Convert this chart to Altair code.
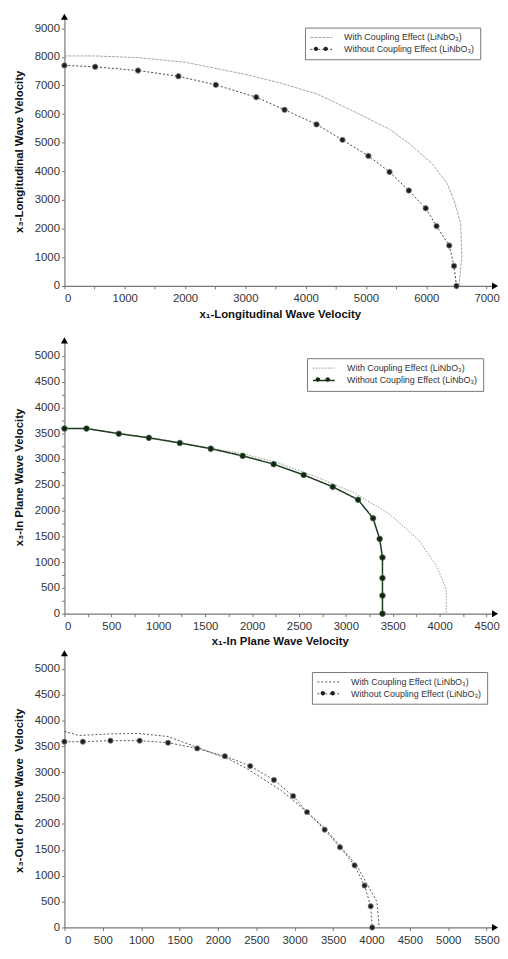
import altair as alt
import pandas as pd

W = "With Coupling Effect (LiNbO₃)"
WO = "Without Coupling Effect (LiNbO₃)"
FONT = "Liberation Sans"

# ---- Panel 1: longitudinal wave
long_with_x = [0, 500, 1220, 2000, 3040, 3590, 4190, 4790, 5390, 5720, 6100, 6350, 6460, 6570, 6590, 6540]
long_with_y = [8030, 8030, 7970, 7810, 7370, 7080, 6700, 6100, 5470, 4970, 4260, 3560, 2990, 2180, 1030, 0]
long_wo_x = [0, 510, 1220, 1890, 2510, 3180, 3650, 4180, 4610, 5040, 5390, 5710, 5990, 6170, 6380, 6460, 6500]
long_wo_y = [7700, 7650, 7520, 7320, 7020, 6590, 6150, 5640, 5100, 4540, 3980, 3330, 2710, 2090, 1410, 700, 0]

# ---- Panel 2: in-plane wave
inp_with_x = [0, 230, 580, 900, 1230, 1560, 1950, 2270, 2660, 3080, 3460, 3780, 3970, 4060, 4070, 4070]
inp_with_y = [3590, 3590, 3500, 3420, 3320, 3210, 3080, 2930, 2670, 2350, 1940, 1420, 910, 520, 400, 0]
inp_wo_x = [0, 235, 580, 900, 1230, 1560, 1900, 2230, 2550, 2860, 3130, 3290, 3360, 3390, 3390, 3390, 3390]
inp_wo_y = [3590, 3590, 3490, 3410, 3310, 3200, 3060, 2900, 2690, 2460, 2210, 1850, 1450, 1090, 690, 350, 0]

# ---- Panel 3: out-of-plane wave
out_with_x = [0, 190, 580, 960, 1350, 1730, 2160, 2400, 2830, 3170, 3390, 3600, 3820, 3950, 4070, 4090, 4100]
out_with_y = [3790, 3710, 3740, 3750, 3690, 3480, 3240, 3050, 2640, 2220, 1920, 1560, 1170, 820, 500, 200, 0]
out_wo_x = [0, 240, 600, 980, 1350, 1730, 2090, 2420, 2730, 2980, 3160, 3390, 3590, 3780, 3910, 3990, 4010]
out_wo_y = [3590, 3590, 3610, 3610, 3570, 3460, 3310, 3120, 2850, 2540, 2230, 1890, 1550, 1200, 810, 410, 0]

LINE_PATH = "M-2.45,0H2.45"
MARK_PATH = ("M-0.6,0A0.5,0.5,0,1,1,-1.6,0A0.5,0.5,0,1,1,-0.6,0Z"
             "M1.6,0A0.5,0.5,0,1,1,0.6,0A0.5,0.5,0,1,1,1.6,0Z")


def make_panel(wx, wy, ox, oy, xmax, ymax, xstep_tick, xstep_lab, ystep_tick, ystep_lab,
               xtop, ytop, xtitle, ytitle, height, lx, ly, st):
    dom = [W, WO]
    dom2 = [W + " ", WO + " "]
    df = pd.DataFrame({
        "x": wx + ox,
        "y": wy + oy,
        "series": [W] * len(wx) + [WO] * len(ox),
        "i": list(range(len(wx))) + list(range(len(ox))),
    })
    dpts = pd.DataFrame({"x": ox, "y": oy, "mk": [dom2[1]] * len(ox)})

    xvals = list(range(0, xtop + 1, xstep_tick))
    yvals = list(range(0, ytop + 1, ystep_tick))
    xaxis = alt.Axis(values=xvals, title=xtitle, format="d", labelOverlap=False,
                     labelExpr=f"datum.value % {xstep_lab} == 0 ? datum.label : ''",
                     labelPadding=4, titlePadding=4)
    yaxis = alt.Axis(values=yvals, title=ytitle, format="d", labelOverlap=False,
                     labelExpr=f"datum.value % {ystep_lab} == 0 ? datum.label : ''",
                     labelPadding=2, titlePadding=10)
    xscale = alt.Scale(domain=[0, xmax], nice=False, zero=False)
    yscale = alt.Scale(domain=[0, ymax], nice=False, zero=False)
    xe = alt.X("x:Q", scale=xscale, axis=xaxis)
    ye = alt.Y("y:Q", scale=yscale, axis=yaxis)

    common = dict(orient="none", legendX=lx, legendY=ly, title=None, symbolSize=81,
                  labelFontSize=9, labelFont=FONT, padding=5, rowPadding=2,
                  symbolOffset=6.5, labelOffset=18, labelLimit=300)
    leg1 = alt.Legend(symbolType=LINE_PATH, strokeColor="#777", fillColor="white",
                      labelColor="#333", symbolStrokeWidth=1, **common)
    leg2 = alt.Legend(symbolType=MARK_PATH, strokeColor="transparent", fillColor="transparent",
                      labelColor="transparent", labelExpr="''", symbolStrokeWidth=0,
                      symbolStrokeColor="transparent", **common)

    line = alt.Chart(df).mark_line(clip=False).encode(
        x=xe, y=ye,
        order="i:Q",
        color=alt.Color("series:N", scale=alt.Scale(domain=dom, range=st["colors"]), legend=leg1),
        strokeDash=alt.StrokeDash("series:N", scale=alt.Scale(domain=dom, range=st["dashes"]), legend=leg1),
        strokeWidth=alt.StrokeWidth("series:N", scale=alt.Scale(domain=dom, range=st["widths"]), legend=None),
    )
    pts = alt.Chart(dpts).mark_point(filled=True, size=st["msize"], stroke=st["mstroke"],
                                     strokeWidth=0.8, opacity=1, clip=False).encode(
        x=xe, y=ye,
        fill=alt.Fill("mk:N", scale=alt.Scale(domain=dom2, range=["transparent", st["mfill"]]), legend=leg2),
    )
    arr_x = alt.Chart(pd.DataFrame({"x": [xmax], "y": [0]})).mark_point(
        shape="triangle-right", filled=True, color="black", size=50, opacity=1, clip=False
    ).encode(x=xe, y=ye)
    arr_y = alt.Chart(pd.DataFrame({"x": [0], "y": [ymax]})).mark_point(
        shape="triangle-up", filled=True, color="black", size=50, opacity=1, clip=False
    ).encode(x=xe, y=ye)
    return alt.layer(line, pts, arr_x, arr_y).properties(width=435, height=height)


style1 = dict(colors=["#a6a6a6", "#444444"], dashes=[[3, 1], [2, 2]], widths=[1.0, 1.0],
              msize=30, mstroke="#8a8a8a", mfill="#1e1e1e")
style2 = dict(colors=["#7a7a7a", "#1f3b1f"], dashes=[[1.5, 1.5], [1, 0]], widths=[0.8, 1.5],
              msize=32, mstroke="#4d6b4d", mfill="#0f260f")
style3 = dict(colors=["#555555", "#555555"], dashes=[[2, 2], [2, 2]], widths=[1.0, 1.0],
              msize=28, mstroke="#8a8a8a", mfill="#1e1e1e")

p1 = make_panel(long_with_x, long_with_y, long_wo_x, long_wo_y, 7140, 9400, 500, 1000, 1000, 1000,
                7000, 9000, "x₁-Longitudinal Wave Velocity", "x₃-Longitudinal Wave Velocity",
                272, 243, 11, style1)
p2 = make_panel(inp_with_x, inp_with_y, inp_wo_x, inp_wo_y, 4590, 5300, 250, 500, 250, 500,
                4500, 5000, "x₁-In Plane Wave Velocity", "x₃-In Plane Wave Velocity",
                276, 245, 18, style2)
p3 = make_panel(out_with_x, out_with_y, out_wo_x, out_wo_y, 5610, 5300, 500, 500, 500, 500,
                5500, 5000, "x₁-Out of Plane Wave \u00a0Velocity", "x₃-Out of Plane Wave \u00a0Velocity",
                277, 250, 19, style3)

res = dict(color="independent", fill="independent", strokeDash="independent", strokeWidth="independent")
bottom = alt.vconcat(p2, p3, spacing=2).resolve_scale(**res)
chart = alt.vconcat(p1, bottom, spacing=17).resolve_scale(**res).properties(
    padding={"left": 5, "top": 0, "right": 0, "bottom": -17}, background="white"
).configure_view(stroke=None).configure_axis(
    grid=False, domainColor="#777", domainWidth=1.2, tickColor="#777", tickSize=3, tickWidth=1,
    labelFont=FONT, labelFontSize=11.5, labelColor="#333", labelOverlap=False,
    titleFont=FONT, titleFontSize=11.5, titleFontWeight="bold", titleColor="#111",
)

chart.save("out.html", embed_options={"renderer": "svg", "actions": False})
